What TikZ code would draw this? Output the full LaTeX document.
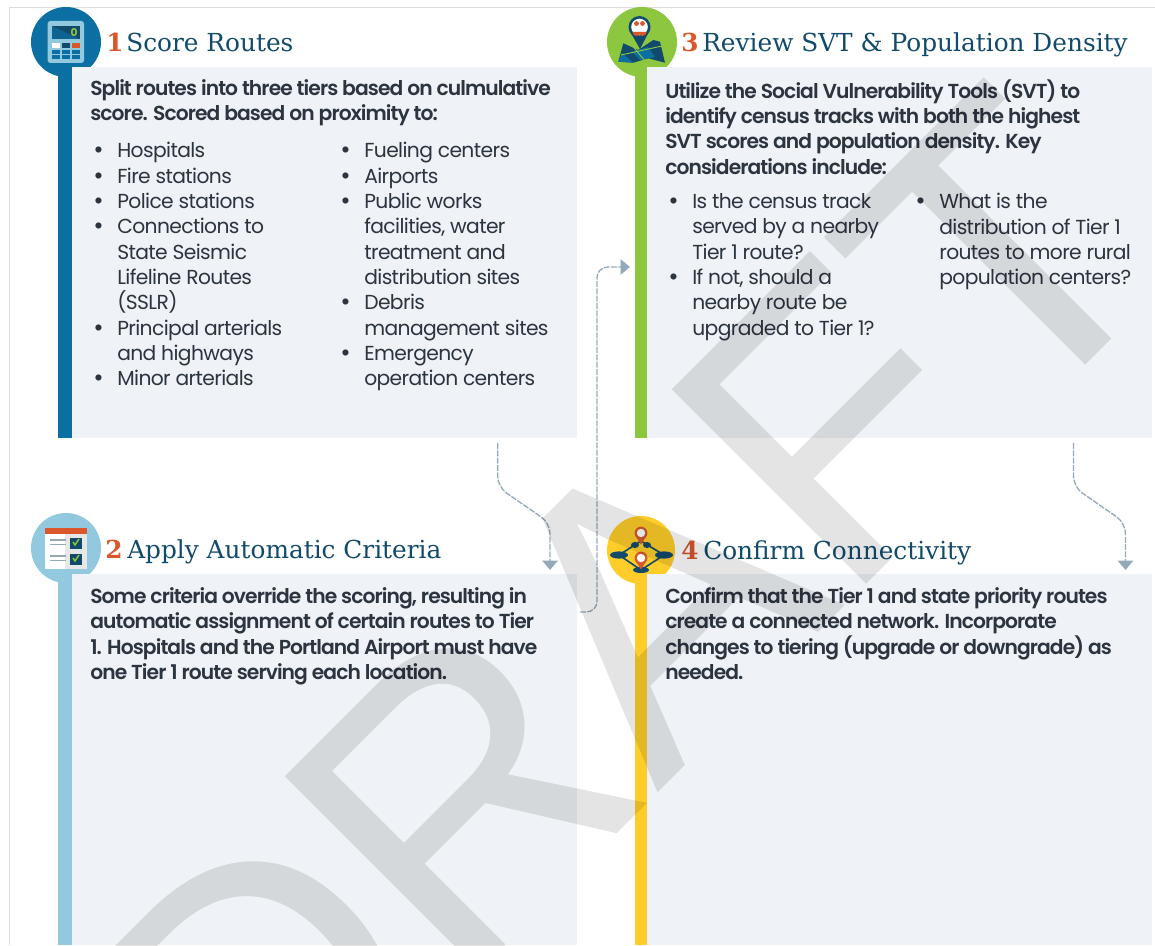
\documentclass[tikz,border=0pt]{standalone}
\usepackage{fontspec}
\usetikzlibrary{arrows.meta}
\setmainfont{Poppins}
\newfontfamily\leadfont[LetterSpace=-4.5]{Poppins SemiBold}
\newfontfamily\listfont[LetterSpace=-3]{Poppins}
\newfontfamily\headfont{DejaVu Serif}
\newfontfamily\stampfont[LetterSpace=-1.1]{Liberation Sans}
\definecolor{panelgrey}{HTML}{EFF2F6}
\definecolor{framegrey}{HTML}{DDDDDD}
\definecolor{routeblue}{HTML}{0B6FA4}
\definecolor{paleblue}{HTML}{92C9DE}
\definecolor{routegreen}{HTML}{8DC63F}
\definecolor{routeyellow}{HTML}{FFCD2A}
\definecolor{titlenavy}{HTML}{114A6B}
\definecolor{bodyink}{HTML}{2C3440}
\definecolor{numorange}{HTML}{D9572B}
\definecolor{flowgrey}{HTML}{94AAB8}
\newcommand{\bul}{\llap{{\stampfont\fontsize{17}{19}\selectfont\textbullet}\hspace{11pt}}}
\tikzset{
    panelbox/.style={fill=panelgrey},
    headtext/.style={anchor=base west, inner sep=0pt, text=titlenavy, font=\headfont\fontsize{18.6}{22}\selectfont},
    numtext/.style={anchor=base west, inner sep=0pt, text=numorange, font=\headfont\bfseries\fontsize{18.6}{22}\selectfont},
    leadtext/.style={anchor=north west, inner sep=0pt, align=left, text=bodyink, execute at begin node=\strut, font=\leadfont\fontsize{15.2}{19}\selectfont},
    listtext/.style={anchor=north west, inner sep=0pt, align=left, text=bodyink, execute at begin node=\strut, font=\listfont\fontsize{15.2}{19}\selectfont},
    flowline/.style={draw=flowgrey, line width=1pt, dash pattern=on 4.5pt off 1pt, rounded corners=8pt},
    flowtip/.style={-{Triangle[width=11.5pt, length=7pt]}},
}
\begin{document}
\begin{tikzpicture}[x=0.75pt, y=-0.75pt]
    \useasboundingbox (0,0) rectangle (1155,945);
    \draw[framegrey, line width=0.75pt] (9.5,945) -- (9.5,8) -- (1155,8);

    \fill[routeblue] (66,42) circle (35);
    \fill[routeblue] (58.3,42) rectangle (71.6,438);
    \fill[paleblue] (66,548) circle (35);
    \fill[paleblue] (58.3,548) rectangle (71.6,945);
    \fill[routegreen] (642,42) circle (35);
    \fill[routegreen] (635,42) rectangle (647,438);
    \fill[routeyellow] (641,550) circle (34);
    \fill[routeyellow] (635,550) rectangle (647,945);
    \fill[panelbox] (71.6,67) rectangle (577,438);
    \fill[panelbox] (71.6,574) rectangle (577,945);
    \fill[panelbox] (647,67) rectangle (1152,438);
    \fill[panelbox] (647,574) rectangle (1152,945);

    % calculator
    \fill[paleblue, rounded corners=2pt] (47.7,21) rectangle (84,63);
    \fill[titlenavy] (52,26) rectangle (79.5,39);
    \fill[routeblue!70!titlenavy] (52,26) -- (79.5,39) -- (52,39) -- cycle;
    \node (calcnum) [inner sep=0pt, text=routegreen, font=\bfseries\fontsize{8}{8}\selectfont] at (74,32.5) {0};
    \fill[white] (52.3,43.3) rectangle (60,48);
    \fill[titlenavy] (62,43.3) rectangle (70,48);
    \fill[numorange] (72,43.3) rectangle (80,48);
    \foreach \keyx in {52.3,62,72}
        \foreach \keyy in {50,55}
            \fill[routeblue] (\keyx,\keyy) rectangle +(7.8,4);

    % checklist window
    \fill[white] (45,528) rectangle (87,569);
    \fill[framegrey!70!white] (65,534) rectangle (87,569);
    \fill[numorange] (45,528) rectangle (87,534);
    \foreach \rowy in {542,558} {
        \fill[titlenavy] (70,\rowy-4.5) rectangle +(11.5,11);
        \draw[routegreen, line width=1.1pt] (73,\rowy) -- (75,\rowy+3) -- (79,\rowy-3);
        \draw[flowgrey, line width=0.8pt] (50,\rowy-2) -- (66,\rowy-2) (50,\rowy+2.5) -- (66,\rowy+2.5);
    }

    % map and pin
    \fill[titlenavy] (623.3,43.3) -- (638.3,50) -- (653.3,40) -- (660,41.7) -- (665,62.7) -- (648.3,58.3) -- (633.3,62.7) -- (618.3,61.7) -- cycle;
    \fill[routeblue] (618.3,61.7) -- (622,53) -- (633.3,62.7) -- cycle;
    \fill[routeblue] (632,52) -- (648,47) -- (655,57) -- (640,60) -- cycle;
    \draw[routegreen, line width=0.7pt] (630,43) -- (645,61) (621,55) -- (662,46);
    \fill[titlenavy] (628.7,29) -- (640,49) -- (650.3,29) -- cycle;
    \fill[titlenavy] (639.5,27) circle (11);
    \fill[white] (639.5,27) circle (8.3);
    \fill[numorange] (636.5,23.5) circle (2.4);
    \fill[numorange] (642.5,23.5) circle (2.4);
    \fill[numorange] (632.5,32) arc (180:0:4) -- cycle;
    \fill[numorange] (638.5,32) arc (180:0:4) -- cycle;

    % route hub
    \draw[titlenavy, line width=1.2pt] (619,555) -- (641,541) -- (664,555) -- (641,570) -- cycle;
    \fill[titlenavy] (619,555) ellipse (9 and 3.6);
    \fill[titlenavy] (664,555) ellipse (9 and 3.6);
    \fill[titlenavy] (635,545) ellipse (4 and 3);
    \fill[titlenavy] (647,545) ellipse (4 and 3);
    \fill[titlenavy] (641,570) ellipse (8 and 3);
    \foreach \piny in {533,558} {
        \fill[numorange] (635,\piny+2) -- (641,\piny+11.5) -- (647,\piny+2) -- cycle;
        \fill[numorange] (641,\piny) circle (6.4);
        \fill[white] (641,\piny) circle (4.2);
    }

    \node (numone) [numtext] at (106,52) {1};
    \node (headone) [headtext] at (126,52) {Score Routes};
    \node (numtwo) [numtext] at (105,558) {2};
    \node (headtwo) [headtext] at (127,558) {Apply Automatic Criteria};
    \node (numthree) [numtext] at (681,52) {3};
    \node (headthree) [headtext] at (702,52) {Review SVT \& Population Density};
    \node (numfour) [numtext] at (681,559) {4};
    \node (headfour) [headtext] at (703,559) {Confirm Connectivity};

    \node (leadone) [leadtext] at (90,79.3) {Split routes into three tiers based on culmulative\\score. Scored based on proximity to:};
    \node (listoneleft) [listtext] at (117,142.3) {\bul Hospitals\\\bul Fire stations\\\bul Police stations\\\bul Connections to\\State Seismic\\Lifeline Routes\\(SSLR)\\\bul Principal arterials\\and highways\\\bul Minor arterials};
    \node (listoneright) [listtext] at (364,142.3) {\bul Fueling centers\\\bul Airports\\\bul Public works\\facilities, water\\treatment and\\distribution sites\\\bul Debris\\management sites\\\bul Emergency\\operation centers};
    \node (leadtwo) [leadtext] at (90,587.3) {Some criteria override the scoring, resulting in\\automatic assignment of certain routes to Tier\\1. Hospitals and the Portland Airport must have\\one Tier 1 route serving each location.};
    \node (leadthree) [leadtext] at (665,79.3) {Utilize the Social Vulnerability Tools (SVT) to\\identify census tracks with both the highest\\SVT scores and population density. Key\\considerations include:};
    \node (listthreeleft) [listtext] at (692,193.3) {\bul Is the census track\\served by a nearby\\Tier 1 route?\\\bul If not, should a\\nearby route be\\upgraded to Tier 1?};
    \node (listthreeright) [listtext] at (939,193.3) {\bul What is the\\distribution of Tier 1\\routes to more rural\\population centers?};
    \node (leadfour) [leadtext] at (665,587.3) {Confirm that the Tier 1 and state priority routes\\create a connected network. Incorporate\\changes to tiering (upgrade or downgrade) as\\needed.};

    \coordinate (outone) at (497.7,443);
    \coordinate (kneeonea) at (497.7,487);
    \coordinate (kneeoneb) at (550,523);
    \coordinate (intwo) at (550,570);
    \coordinate (outtwo) at (580,612);
    \coordinate (kneetwoa) at (597,612);
    \coordinate (kneetwob) at (597,267);
    \coordinate (inthree) at (630,267);
    \coordinate (outthree) at (1073.5,443);
    \coordinate (kneethreea) at (1073.5,487);
    \coordinate (kneethreeb) at (1125.5,523);
    \coordinate (infour) at (1125.5,570);
    \draw[flowline, flowtip] (outone) -- (kneeonea) -- (kneeoneb) -- (intwo);
    \draw[flowline, flowtip] (outtwo) -- (kneetwoa) -- (kneetwob) -- (inthree);
    \draw[flowline, flowtip] (outthree) -- (kneethreea) -- (kneethreeb) -- (infour);

    \begin{scope}
        \clip (0,0) rectangle (1155,945);
        \node (stamp) [rotate=45, anchor=base west, inner sep=0pt, text=black, text opacity=0.105, font=\stampfont\fontsize{300}{320}\selectfont] at (255,1196) {DRAFT};
    \end{scope}
\end{tikzpicture}
\end{document}
